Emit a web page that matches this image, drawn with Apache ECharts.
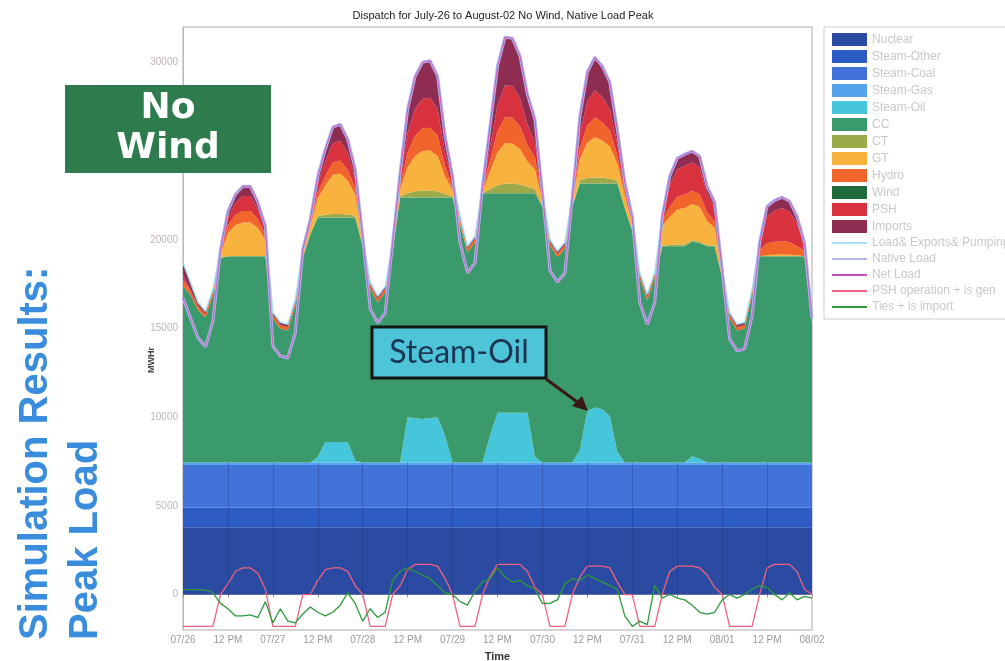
<!DOCTYPE html>
<html><head><meta charset="utf-8">
<script src="https://cdn.jsdelivr.net/npm/echarts@6/dist/echarts.min.js"></script>
<style>html,body{margin:0;padding:0;background:#fff}#c{width:1005px;height:661px}</style>
</head><body><div id="c"></div><script>
// hours since 07/26 00:00, 2-hour steps
const hours = [0,2,4,6,8,10,12,14,16,18,20,22,24,26,28,30,32,34,36,38,40,42,44,46,48,50,52,54,56,58,60,62,64,66,68,70,72,74,76,78,80,82,84,86,88,90,92,94,96,98,100,102,104,106,108,110,112,114,116,118,120,122,124,126,128,130,132,134,136,138,140,142,144,146,148,150,152,154,156,158,160,162,164,166,168];
const xTickLabels = ['07/26','12 PM','07/27','12 PM','07/28','12 PM','07/29','12 PM','07/30','12 PM','07/31','12 PM','08/01','12 PM','08/02'];
const yTickValues = [0,5000,10000,15000,20000,25000,30000];

const nuclear = [3800,3800,3800,3800,3800,3800,3800,3800,3800,3800,3800,3800,3800,3800,3800,3800,3800,3800,3800,3800,3800,3800,3800,3800,3800,3800,3800,3800,3800,3800,3800,3800,3800,3800,3800,3800,3800,3800,3800,3800,3800,3800,3800,3800,3800,3800,3800,3800,3800,3800,3800,3800,3800,3800,3800,3800,3800,3800,3800,3800,3800,3800,3800,3800,3800,3800,3800,3800,3800,3800,3800,3800,3800,3800,3800,3800,3800,3800,3800,3800,3800,3800,3800,3800,3800];
const steamOther = [1100,1100,1100,1100,1100,1100,1100,1100,1100,1100,1100,1100,1100,1100,1100,1100,1100,1100,1100,1100,1100,1100,1100,1100,1100,1100,1100,1100,1100,1100,1100,1100,1100,1100,1100,1100,1100,1100,1100,1100,1100,1100,1100,1100,1100,1100,1100,1100,1100,1100,1100,1100,1100,1100,1100,1100,1100,1100,1100,1100,1100,1100,1100,1100,1100,1100,1100,1100,1100,1100,1100,1100,1100,1100,1100,1100,1100,1100,1100,1100,1100,1100,1100,1100,1100];
const steamCoal = [2400,2400,2400,2400,2400,2400,2400,2400,2400,2400,2400,2400,2400,2400,2400,2400,2400,2400,2400,2400,2400,2400,2400,2400,2400,2400,2400,2400,2400,2400,2400,2400,2400,2400,2400,2400,2400,2400,2400,2400,2400,2400,2400,2400,2400,2400,2400,2400,2400,2400,2400,2400,2400,2400,2400,2400,2400,2400,2400,2400,2400,2400,2400,2400,2400,2400,2400,2400,2400,2400,2400,2400,2400,2400,2400,2400,2400,2400,2400,2400,2400,2400,2400,2400,2400];
const steamGas = [150,150,150,150,150,150,150,150,150,150,150,150,150,150,150,150,150,150,150,150,150,150,150,150,150,150,150,150,150,150,150,150,150,150,150,150,150,150,150,150,150,150,150,150,150,150,150,150,150,150,150,150,150,150,150,150,150,150,150,150,150,150,150,150,150,150,150,150,150,150,150,150,150,150,150,150,150,150,150,150,150,150,150,150,150];
const steamOil = [0,0,0,0,0,0,0,0,0,0, 0,0,0,0,0,0,0,0,300,1150, 1150,1150,1150,100,0,0,0,0,0,0, 2550,2500,2450,2500,2550,1500,0,0,0,0, 0,1500,2800,2800,2800,2800,2800,300,0,0, 0,0,0,700,2900,3100,3000,2600,600,0, 0,0,0,0,0,0,0,0,350,200, 0,0,0,0,0,0,0,0,0,0, 0,0,0,0,0];
const cc = [9950,9450,8600,8170,9400,11520,11620,11620,11620,11620, 11620,11620,8110,7550,7440,8850,11550,12850,13510,12660, 12660,12660,12660,13710,12200,9800,9020,9580,11950,14940, 12390,12440,12490,12440,12390,13440,14940,13430,11840,12400, 15170,13670,12370,12370,12370,12370,12370,14870,14450,12230, 11570,12060,14450,15030,12830,12630,12730,13130,15130,14350, 13050,10370,9130,10370,12190,12190,12190,12190,12100,12150, 12190,12190,10450,8110,7440,7550,9410,11620,11620,11620, 11620,11620,11620,11620,7800];
const ct = [0,0,0,0,0,0,0,0,0,0, 0,0,0,0,0,0,0,0,80,150, 190,200,170,100,0,0,0,0,0,70, 250,340,385,390,340,175,60,0,0,0, 0,240,460,560,555,495,355,265,0,0, 0,0,0,180,300,340,315,270,145,0, 0,0,0,0,30,70,90,95,95,90, 60,45,0,0,0,0,0,0,0,0, 0,0,0,0,0];
const gt = [0,0,0,0,0,150,1300,1750,1900,1900, 1600,900,0,0,0,0,120,460,1000,1650, 2200,2280,1900,1180,200,0,0,0,110,420, 1450,2000,2230,2250,2000,1010,350,100,0,0, 100,980,1850,2270,2250,2000,1440,1075,280,0, 0,0,210,1200,1995,2260,2100,1810,970,700, 330,0,0,0,1100,1570,1975,2065,2030,1960, 1345,990,0,0,0,0,0,0,80,90, 100,90,60,0,0];
const hydro = [350,250,230,200,200,200,450,600,650,650, 500,300,200,200,200,200,200,200,330,540, 710,730,620,380,200,200,200,200,200,240, 840,1150,1280,1295,1150,580,200,200,200,200, 150,630,1190,1460,1455,1290,930,695,200,200, 200,200,200,600,990,1120,1040,900,480,300, 200,200,200,200,350,575,720,755,740,715, 490,360,250,200,200,200,200,350,650,730, 770,720,520,300,200];
const wind = [0,0,0,0,0,0,0,0,0,0,0,0,0,0,0,0,0,0,0,0,0,0,0,0,0,0,0,0,0,0,0,0,0,0,0,0,0,0,0,0,0,0,0,0,0,0,0,0,0,0,0,0,0,0,0,0,0,0,0,0,0,0,0,0,0,0,0,0,0,0,0,0,0,0,0,0,0,0,0,0,0,0,0,0,0];
const psh = [300,0,0,0,0,0,450,650,850,850, 550,300,0,0,0,0,0,0,500,810, 1080,1110,940,570,0,0,0,0,0,310, 1090,1490,1665,1685,1490,755,260,0,0,0, 0,780,1470,1810,1790,1590,1145,860,0,0, 0,0,0,815,1350,1530,1420,1230,660,200, 0,0,0,0,0,1230,1545,1615,1590,1530, 1050,770,0,0,0,0,0,200,1550,1750, 1850,1720,1250,250,0];
const imports = [650,450,200,150,150,150,340,500,550,550, 400,200,150,150,150,150,150,200,420,700, 910,940,790,490,150,150,150,150,150,380, 1350,1860,2070,2090,1860,940,330,150,150,150, 150,1160,2200,2710,2690,2385,1720,1285,300,150, 150,150,150,995,1645,1870,1735,1500,805,250, 300,150,150,150,210,505,630,660,645,625, 435,315,190,150,150,150,150,240,540,590, 610,580,430,240,150];

const loadExpPump = [18720,17600,16480,15970,17200,19470,21610,22570,23020,23020, 22120,20770,15910,15350,15240,16650,19470,21160,23590,25110, 26350,26520,25680,23980,20200,17600,16820,17380,19860,23810, 27370,29230,30020,30100,29230,25850,23590,21330,19640,20200, 23020,26410,29790,31430,31360,30380,28210,26800,22680,20030, 19370,19860,22460,26970,29460,30300,29790,28890,26240,23250, 21330,18170,16930,18170,21330,23590,24600,24830,25000,24720, 23020,22120,18340,15910,15240,15350,17210,19860,21890,22230, 22400,22180,21330,19860,15600];
const nativeLoad = [16720,15600,14480,13970,15400,19470,21610,22570,23020,23020, 22120,20770,14010,13450,13340,14750,19470,21160,23590,25110, 26350,26520,25680,23980,20200,16100,15320,15880,19860,23810, 27370,29230,30020,30100,29230,25850,23590,19830,18140,18700, 23020,26410,29790,31430,31360,30380,28210,26800,22680,18280, 17620,18110,22460,26970,29460,30300,29790,28890,26240,23250, 21330,16470,15230,16470,21330,23590,24600,24830,25000,24720, 23020,22120,18340,14410,13740,13850,15710,19860,21890,22230, 22400,22180,21330,19860,15600];
const netLoad = [16720,15600,14480,13970,15400,19470,21610,22570,23020,23020, 22120,20770,14010,13450,13340,14750,19470,21160,23590,25110, 26350,26520,25680,23980,20200,16100,15320,15880,19860,23810, 27370,29230,30020,30100,29230,25850,23590,19830,18140,18700, 23020,26410,29790,31430,31360,30380,28210,26800,22680,18280, 17620,18110,22460,26970,29460,30300,29790,28890,26240,23250, 21330,16470,15230,16470,21330,23590,24600,24830,25000,24720, 23020,22120,18340,14410,13740,13850,15710,19860,21890,22230, 22400,22180,21330,19860,15600];
const pshOperation = [-1800,-1800,-1800,-1800,-1800,0,600,1300,1500,1500, 1200,300,-1800,-1800,-1800,-1800,0,0,800,1400, 1500,1500,1300,500,0,-1800,-1800,-1800,0,500, 1400,1700,1700,1700,1600,900,0,-1800,-1800,-1800, 0,1000,1700,1700,1700,1700,1300,400,0,-1800, -1800,-1800,0,1000,1600,1600,1600,1500,700,0, 0,-1800,-1800,-1800,0,1300,1600,1600,1600,1500, 1100,400,0,-1800,-1800,-1800,-1800,0,1500,1700, 1700,1700,1300,300,0];
const tiesImport = [280,280,280,250,100,-500,-800,-1200,-1200,-1150, -1300,-400,-1600,-800,-1500,-1600,-1100,-700,-1000,-1200, -1000,-600,100,-500,-1500,-800,-1300,-1000,800,1300, 1500,1300,1100,900,500,100,0,-400,-600,200, 700,900,1500,1000,700,800,500,300,-500,-500, -300,600,900,800,1100,900,700,500,300,-1200, -1800,-1500,-1700,500,-200,0,-200,-300,-600,-1000, -1100,-1000,-300,0,-200,0,300,500,400,0, -300,100,-300,-100,-200];

const areaDefs = [
  ['Nuclear', nuclear, '#2b4ba3'],
  ['Steam-Other', steamOther, '#2c5bc4'],
  ['Steam-Coal', steamCoal, '#4273d9'],
  ['Steam-Gas', steamGas, '#55a2ea'],
  ['Steam-Oil', steamOil, '#46c6da'],
  ['CC', cc, '#3b9a6b'],
  ['CT', ct, '#9caa4c'],
  ['GT', gt, '#f8b33e'],
  ['Hydro', hydro, '#f2652a'],
  ['Wind', wind, '#1f6b3c'],
  ['PSH', psh, '#d8323e'],
  ['Imports', imports, '#8e2c52']
];
const lineDefs = [
  ['Load& Exports& Pumping', loadExpPump, '#a8e2f2', 1.5],
  ['Native Load', nativeLoad, '#b2b4ec', 3],
  ['Net Load', netLoad, '#c44cb8', 0.8],
  ['PSH operation + is gen', pshOperation, '#f0607e', 1.3],
  ['Ties + is import', tiesImport, '#2f9a3c', 1.3]
];
const cats = hours.map(String);
const blueTop = nuclear[0] + steamOther[0] + steamCoal[0] + steamGas[0];
const gridHours = hours.filter(h => h % 12 === 0 && h > 0 && h < 168);

const series = [];
areaDefs.forEach(([name, arr, color], k) => {
  const s = {
    name, type: 'line', stack: 'gen', data: arr.slice(), symbol: 'none', showSymbol: false,
    color, itemStyle: {color}, lineStyle: {width: 0, color}, areaStyle: {color, opacity: 1},
    emphasis: {disabled: true}, silent: true, animation: false, z: 2
  };
  if (k === 0) {
    s.markLine = {
      silent: true, symbol: ['none', 'none'], label: {show: false},
      lineStyle: {color: 'rgba(25,35,100,0.28)', width: 1, type: 'solid'},
      data: gridHours.map(h => [{coord: [String(h), 0]}, {coord: [String(h), blueTop]}])
    };
  }
  series.push(s);
});
lineDefs.forEach(([name, arr, color, w]) => {
  series.push({
    name, type: 'line', data: arr.slice(), symbol: 'none', showSymbol: false, color,
    itemStyle: {color}, lineStyle: {width: w, color},
    emphasis: {disabled: true}, silent: true, animation: false, z: 3
  });
});

const lineIcon = 'path://M0,0H35V2H0Z';
const chart = echarts.init(document.getElementById('c'), null, {renderer: 'canvas'});
chart.setOption({
  animation: false,
  backgroundColor: '#ffffff',
  title: {
    text: 'Dispatch for July-26 to August-02 No Wind, Native Load Peak',
    left: 498, top: 5, textAlign: 'center',
    textStyle: {fontFamily: 'Liberation Sans', fontSize: 11, fontWeight: 'normal', color: '#222'}
  },
  grid: {left: 183, right: 193, top: 27, bottom: 31, outerBoundsMode: 'none', containLabel: false,
    show: true, borderColor: '#aaa', borderWidth: 1, backgroundColor: 'transparent'},
  legend: {
    orient: 'vertical', left: 824, top: 27, padding: [6, 6, 6, 8],
    backgroundColor: '#fff', borderColor: '#ccc', borderWidth: 1,
    itemWidth: 35, itemHeight: 13, itemGap: 4,
    textStyle: {fontFamily: 'Liberation Sans', fontSize: 12, color: '#c8c8c8'},
    data: areaDefs.map(d => ({name: d[0], icon: 'rect'})).concat(lineDefs.map(d => ({name: d[0], icon: lineIcon}))),
    selectedMode: false
  },
  xAxis: {
    type: 'category', data: cats, boundaryGap: false,
    name: 'Time', nameLocation: 'middle', nameGap: 21,
    nameTextStyle: {fontFamily: 'Liberation Sans', fontSize: 11, fontWeight: 'bold', color: '#333'},
    axisLine: {show: true, lineStyle: {color: '#999'}},
    axisTick: {show: true, interval: 5, length: 3, lineStyle: {color: '#999'}},
    axisLabel: {fontFamily: 'Liberation Sans', fontSize: 10, color: '#9a9a9a', margin: 5, interval: 5,
      formatter: (v, i) => xTickLabels[Math.round(i / 6)] || ''},
    splitLine: {show: false}
  },
  yAxis: {
    type: 'value', min: -2000, max: 32000, interval: 1000,
    axisLine: {show: true, lineStyle: {color: '#bbb'}},
    axisTick: {show: false},
    axisLabel: {fontFamily: 'Liberation Sans', fontSize: 10, color: '#c0b4b4', margin: 5,
      formatter: v => yTickValues.indexOf(v) >= 0 ? String(v) : ''},
    splitLine: {show: false}
  },
  series,
  graphic: [
    {type: 'text', z: 10, rotation: Math.PI / 2, x: 36, y: 640,
      style: {text: 'Simulation Results:', fill: '#3a8ddc', font: 'bold 40px "Liberation Sans"', textAlign: 'left', textVerticalAlign: 'middle'}},
    {type: 'text', z: 10, rotation: Math.PI / 2, x: 86, y: 640,
      style: {text: 'Peak Load', fill: '#3a8ddc', font: 'bold 40px "Liberation Sans"', textAlign: 'left', textVerticalAlign: 'middle'}},
    {type: 'text', z: 10, rotation: Math.PI / 2, x: 152, y: 360,
      style: {text: 'MWHr', fill: '#444', font: 'bold 9px "Liberation Sans"', textAlign: 'center', textVerticalAlign: 'middle'}},
    {type: 'rect', z: 10, shape: {x: 65, y: 85, width: 206, height: 88}, style: {fill: '#2e7b4e'}},
    {type: 'text', z: 11, x: 168, y: 109, style: {text: 'No', fill: '#fff', font: 'bold 36px "DejaVu Sans"', textAlign: 'center', textVerticalAlign: 'middle'}},
    {type: 'text', z: 11, x: 168, y: 149, style: {text: 'Wind', fill: '#fff', font: 'bold 36px "DejaVu Sans"', textAlign: 'center', textVerticalAlign: 'middle'}},
    {type: 'rect', z: 10, shape: {x: 372, y: 327, width: 174, height: 51}, style: {fill: '#4ec4d9', stroke: '#151515', lineWidth: 3}},
    {type: 'text', z: 11, x: 459, y: 353, style: {text: 'Steam-Oil', fill: '#1c3550', font: '32px Lato', textAlign: 'center', textVerticalAlign: 'middle'}},
    {type: 'line', z: 10, shape: {x1: 546, y1: 379, x2: 580, y2: 404}, style: {stroke: '#3a1818', lineWidth: 3}},
    {type: 'polygon', z: 10, shape: {points: [[588, 411], [572, 406], [582, 396]]}, style: {fill: '#3a1818'}}
  ]
});
</script></body></html>
